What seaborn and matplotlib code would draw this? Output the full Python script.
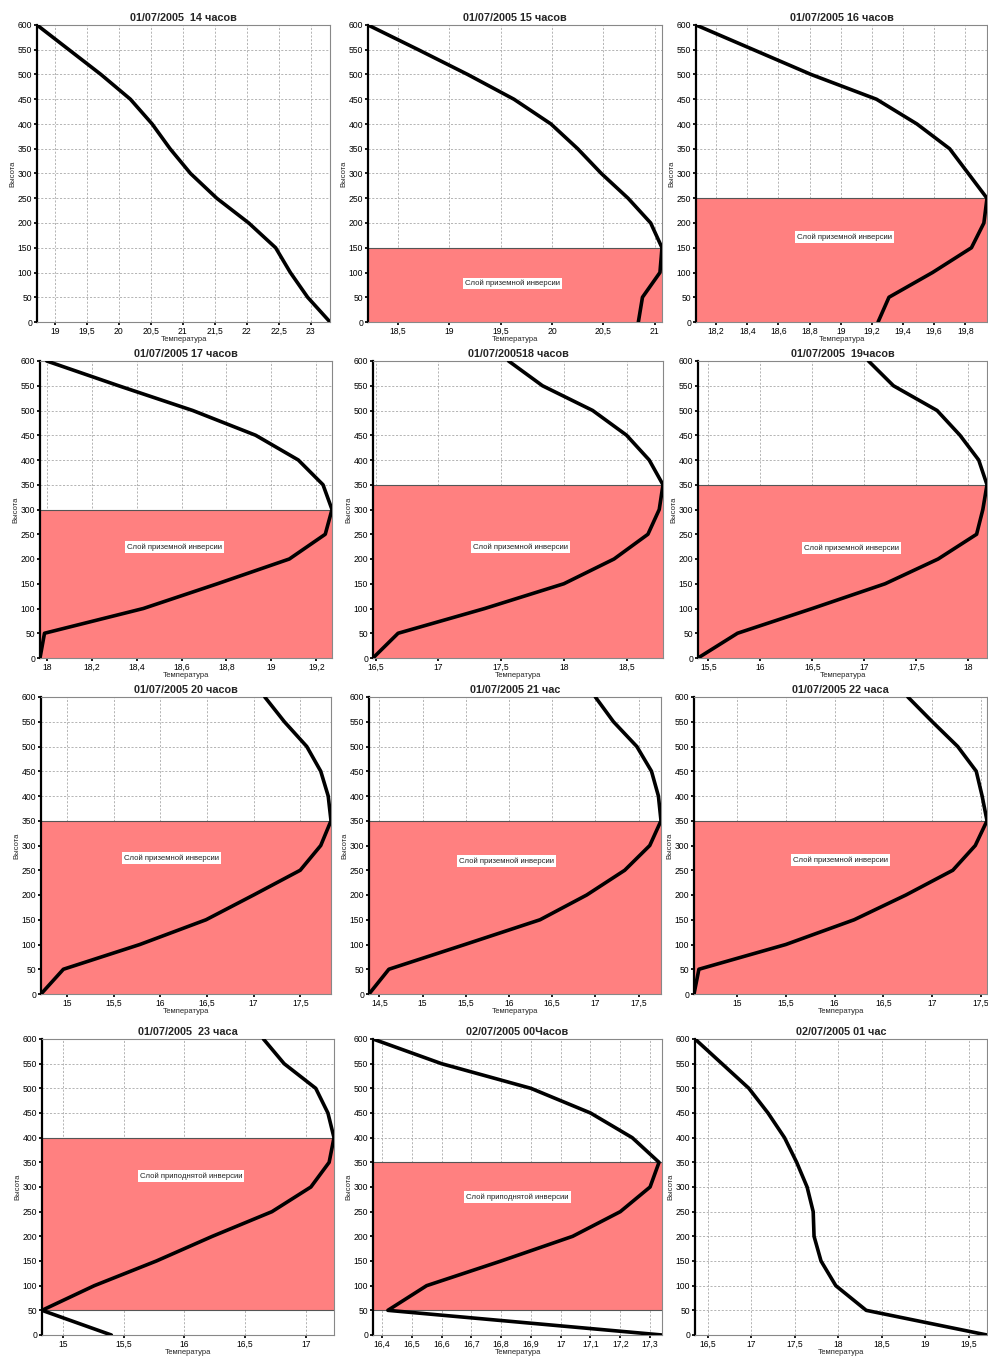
import matplotlib
matplotlib.use("Agg")
import matplotlib.pyplot as plt
import seaborn as sns
import numpy as np
import pandas as pd
from matplotlib.ticker import MultipleLocator, FuncFormatter

# Heights of the sounding levels, m
heights = [0, 50, 100, 150, 200, 250, 300, 350, 400, 450, 500, 550, 600]

# Temperature profiles, one per hour (values at the levels above)
t_14 = [23.30, 22.95, 22.68, 22.45, 22.03, 21.53, 21.12, 20.80, 20.52, 20.18, 19.72, 19.22, 18.72]
t_15 = [20.84, 20.88, 21.05, 21.07, 20.96, 20.74, 20.48, 20.25, 19.99, 19.63, 19.18, 18.70, 18.21]
t_16 = [19.24, 19.31, 19.59, 19.84, 19.92, 19.94, 19.82, 19.70, 19.49, 19.23, 18.81, 18.44, 18.07]
t_17 = [17.97, 17.99, 18.43, 18.76, 19.08, 19.24, 19.27, 19.23, 19.12, 18.93, 18.65, 18.32, 18.00]
t_18 = [16.48, 16.68, 17.37, 18.00, 18.40, 18.67, 18.76, 18.79, 18.68, 18.50, 18.23, 17.83, 17.56]
t_19 = [15.40, 15.78, 16.50, 17.20, 17.71, 18.08, 18.14, 18.18, 18.10, 17.92, 17.70, 17.28, 17.04]
t_20 = [14.72, 14.96, 15.78, 16.49, 17.00, 17.50, 17.72, 17.83, 17.80, 17.72, 17.57, 17.33, 17.12]
t_21 = [14.38, 14.61, 15.49, 16.36, 16.90, 17.34, 17.63, 17.76, 17.73, 17.65, 17.48, 17.21, 17.00]
t_22 = [14.56, 14.61, 15.50, 16.20, 16.73, 17.21, 17.44, 17.56, 17.51, 17.45, 17.26, 17.00, 16.75]
t_23 = [15.40, 14.83, 15.26, 15.77, 16.23, 16.72, 17.04, 17.19, 17.23, 17.18, 17.08, 16.82, 16.65]
t_00 = [17.34, 16.42, 16.55, 16.80, 17.04, 17.20, 17.30, 17.33, 17.24, 17.10, 16.90, 16.60, 16.37]
t_01 = [19.71, 18.32, 17.97, 17.80, 17.72, 17.71, 17.64, 17.52, 17.38, 17.19, 16.97, 16.66, 16.35]

profiles = [t_14, t_15, t_16, t_17, t_18, t_19, t_20, t_21, t_22, t_23, t_00, t_01]

titles = [
    "01/07/2005  14 часов", "01/07/2005 15 часов", "01/07/2005 16 часов",
    "01/07/2005 17 часов", "01/07/200518 часов", "01/07/2005  19часов",
    "01/07/2005 20 часов", "01/07/2005 21 час", "01/07/2005 22 часа",
    "01/07/2005  23 часа", "02/07/2005 00Часов", "02/07/2005 01 час",
]

# Inversion layers: bottom and top heights (None = no layer)
inv_bottom = [None, 0, 0, 0, 0, 0, 0, 0, 0, 50, 50, None]
inv_top = [None, 150, 250, 300, 350, 350, 350, 350, 350, 400, 350, None]
inv_labels = [None] + ["Слой приземной инверсии"] * 8 + ["Слой приподнятой инверсии"] * 2 + [None]

# Temperature tick step per panel
tick_steps = [0.5, 0.5, 0.2, 0.2, 0.5, 0.5, 0.5, 0.5, 0.5, 0.5, 0.1, 0.5]

# Axes boxes in pixels: left, right, top, bottom
boxes = [
    (37, 330, 25, 322), (368, 662, 25, 322), (696, 987, 25, 322),
    (40, 332, 361, 658), (373, 663, 361, 658), (698, 987, 361, 658),
    (41, 331, 697, 994), (369, 661, 697, 994), (694, 987, 697, 994),
    (42, 334, 1039, 1335), (373, 662, 1039, 1335), (695, 987, 1039, 1335),
]
# Label placement: fraction of axes width, height value
label_pos = [None, (0.49, 78), (0.51, 172), (0.46, 224), (0.51, 224), (0.53, 222),
             (0.45, 275), (0.47, 269), (0.50, 271), (0.51, 322), (0.50, 280), None]

W, H = 988, 1357
sns.set_theme(style="white")
plt.rcParams["font.family"] = ["Liberation Sans", "DejaVu Sans"]

fig = plt.figure(figsize=(W / 100, H / 100), dpi=100)
fig.patch.set_facecolor("white")

comma = FuncFormatter(lambda v, _: f"{round(v, 3):g}".replace(".", ","))

for i, temps in enumerate(profiles):
    l, r, t, b = boxes[i]
    ax = fig.add_axes([l / W, 1 - b / H, (r - l) / W, (b - t) / H])
    df = pd.DataFrame({"Температура": temps, "Высота": heights})

    if inv_top[i] is not None:
        ax.axhspan(inv_bottom[i], inv_top[i], color="#FF8080", lw=0, zorder=1)
        ax.axhline(inv_top[i], color="#555555", lw=0.8, zorder=2)
        if inv_bottom[i] > 0:
            ax.axhline(inv_bottom[i], color="#555555", lw=0.8, zorder=2)

    sns.lineplot(data=df, x="Температура", y="Высота", sort=False, estimator=None,
                 color="black", lw=2.6, ax=ax, zorder=4)

    ax.set_xlim(min(temps), max(temps))
    ax.set_ylim(0, 600)
    ax.xaxis.set_major_locator(MultipleLocator(tick_steps[i]))
    ax.yaxis.set_major_locator(MultipleLocator(50))
    ax.xaxis.set_major_formatter(comma)
    ax.grid(True, color="#a8a8a8", ls=(0, (2.5, 2)), lw=0.6, zorder=0)
    ax.set_axisbelow(True)
    for sp in ["top", "right", "bottom"]:
        ax.spines[sp].set_color("#888888")
        ax.spines[sp].set_linewidth(0.8)
    ax.spines["left"].set_color("black")
    ax.spines["left"].set_linewidth(1.6)
    ax.tick_params(axis="both", labelsize=6.2, length=2, pad=1.5, colors="black",
                   direction="out", bottom=True, left=True)
    ax.set_xlabel("Температура", fontsize=5.5, labelpad=0)
    ax.set_ylabel("Высота", fontsize=5.5, labelpad=1)
    ax.set_title(titles[i], fontsize=7.8, fontweight="bold", pad=3)

    if inv_labels[i] is not None:
        fx, yv = label_pos[i]
        ax.text(fx, yv, inv_labels[i], transform=ax.get_yaxis_transform(),
                ha="center", va="center", fontsize=5.6, zorder=5,
                bbox=dict(boxstyle="square,pad=0.25", fc="white", ec="none"))

fig.savefig("out.png", dpi=100, facecolor="white")
